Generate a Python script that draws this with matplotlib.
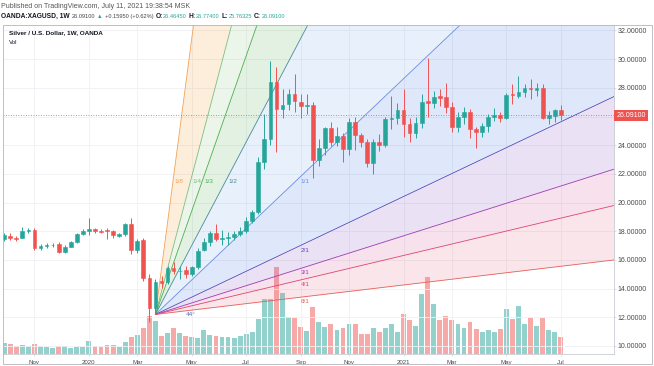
import numpy as np
import pandas as pd
import matplotlib
matplotlib.use("Agg")
import matplotlib.pyplot as plt
from matplotlib.patches import Rectangle
from matplotlib.transforms import blended_transform_factory

plt.rcParams['font.family'] = ['Liberation Sans', 'DejaVu Sans']

# weekly OANDA:XAGUSD candles, first week starts 2019-09-30
first_week = '2019-09-30'
opens = [17.45, 17.65, 17.55, 17.55, 18.00, 18.12, 16.85, 16.97, 17.02, 17.10,
         16.55, 16.93, 17.22, 17.80, 18.05, 18.15, 18.05, 18.10, 18.05, 17.70,
         17.78, 18.53, 16.70, 17.36, 14.75, 12.64, 14.50, 14.45, 15.45, 15.20,
         15.30, 15.02, 15.49, 16.66, 17.24, 17.90, 17.48, 17.50, 17.62, 17.82,
         18.00, 18.70, 19.34, 22.84, 24.44, 28.40, 26.50, 26.87, 27.55, 27.02,
         26.75, 26.80, 23.00, 23.80, 25.18, 24.25, 24.65, 23.72, 25.65, 24.72,
         24.25, 22.73, 24.25, 24.02, 25.84, 25.90, 26.47, 25.49, 24.86, 25.55,
         27.05, 26.95, 27.40, 27.35, 26.65, 25.30, 26.00, 26.30, 25.10, 24.95,
         25.35, 25.95, 26.10, 25.93, 27.60, 27.45, 27.68, 28.00, 27.87, 27.98,
         25.88, 26.05, 26.4645]
highs = [17.85, 17.85, 17.65, 18.32, 18.22, 18.20, 17.10, 17.15, 17.15, 17.25,
         17.05, 17.30, 17.85, 18.15, 18.90, 18.25, 18.15, 18.20, 18.10, 17.88,
         18.58, 18.95, 17.45, 17.50, 15.00, 14.65, 14.85, 15.55, 15.85, 15.55,
         15.55, 15.60, 16.80, 17.50, 18.00, 18.48, 18.10, 17.95, 18.00, 18.30,
         19.00, 19.50, 23.20, 26.20, 29.90, 29.45, 27.90, 27.95, 28.95, 27.60,
         27.55, 27.00, 24.40, 25.30, 25.65, 25.30, 24.85, 25.90, 26.00, 24.85,
         24.40, 24.40, 24.80, 26.00, 27.40, 26.95, 27.95, 25.90, 26.00, 27.60,
         30.10, 27.80, 27.95, 28.35, 27.00, 26.30, 26.65, 26.55, 25.30, 25.55,
         26.20, 26.60, 26.30, 27.65, 28.25, 28.80, 28.30, 28.60, 28.35, 28.30,
         26.40, 26.55, 26.774]
lows = [17.30, 17.40, 17.35, 17.50, 17.90, 16.70, 16.72, 16.85, 16.90, 16.45,
        16.45, 16.88, 17.18, 17.75, 17.75, 17.85, 17.85, 17.45, 17.50, 17.60,
        17.70, 16.43, 16.45, 14.55, 11.64, 12.20, 14.05, 14.35, 15.05, 14.65,
        14.75, 14.90, 15.40, 16.60, 17.00, 17.30, 17.05, 17.05, 17.40, 17.70,
        17.90, 18.60, 19.20, 22.37, 24.00, 23.55, 25.90, 26.45, 26.30, 25.90,
        26.20, 21.70, 22.55, 23.30, 23.95, 23.95, 22.85, 23.30, 23.65, 23.90,
        22.50, 22.00, 23.60, 23.90, 25.10, 25.50, 24.55, 24.25, 24.50, 25.20,
        26.00, 26.60, 26.70, 26.25, 24.95, 24.90, 25.50, 24.50, 23.80, 24.60,
        24.90, 25.70, 25.60, 25.80, 26.85, 27.30, 27.35, 27.20, 27.45, 25.80,
        25.50, 25.65, 25.76325]
closes = [17.75, 17.55, 17.48, 18.00, 18.12, 16.85, 16.97, 17.02, 17.05, 16.55,
          16.93, 17.22, 17.78, 18.05, 18.15, 18.03, 17.98, 18.00, 17.72, 17.80,
          18.52, 16.66, 17.35, 14.75, 12.62, 14.48, 14.42, 15.45, 15.22, 15.25,
          15.02, 15.48, 16.65, 17.24, 17.90, 17.48, 17.50, 17.60, 17.82, 18.00,
          18.70, 19.35, 22.80, 24.40, 28.40, 26.50, 26.80, 27.55, 27.05, 26.75,
          26.77, 23.00, 23.80, 25.18, 24.25, 24.65, 23.72, 25.65, 24.72, 24.25,
          22.73, 24.25, 24.02, 25.84, 25.90, 26.45, 25.50, 24.86, 25.55, 27.00,
          26.95, 27.35, 27.30, 26.65, 25.30, 26.00, 26.30, 25.10, 24.95, 25.35,
          25.95, 26.10, 25.93, 27.50, 27.50, 27.68, 28.00, 27.90, 27.98, 25.88,
          26.12, 26.46, 26.091]
volume_k = [72, 65, 52, 59, 52, 65, 52, 46, 39, 52, 52, 39, 46, 46, 85, 52, 46, 59, 59, 46,
            78, 111, 124, 169, 247, 215, 117, 137, 169, 137, 117, 111, 104, 156, 124, 117, 111, 111, 104, 117,
            130, 143, 228, 358, 358, 566, 397, 241, 234, 176, 150, 306, 208, 176, 195, 156, 169, 195, 195, 130,
            130, 169, 143, 169, 195, 143, 260, 221, 182, 390, 501, 325, 221, 247, 221, 195, 169, 208, 163, 143,
            156, 143, 163, 293, 228, 312, 195, 234, 182, 234, 156, 143, 111]

price_ticks = [10, 12, 14, 16, 18, 20, 22, 24, 26, 28, 30, 32]
last_price = 26.091

# Gann fan
fan_levels = ['1/8', '1/4', '1/3', '1/2', '1/1', '2/1', '3/1', '4/1', '8/1']
fan_start = (25, 12.2)
fan_end = (48.75, 21.72)
fan_angle = '44°'

header1 = 'Published on TradingView.com, July 11, 2021 19:38:54 MSK'
header2 = [('OANDA:XAGUSD, 1W', 'bold', '#131722'), ('26.09100', 'normal', '#444444'),
           ('▲', 'normal', '#26a69a'), ('+0.15950 (+0.62%)', 'normal', '#444444'),
           ('O:', 'bold', '#131722'), ('26.46450', 'normal', '#26a69a'),
           ('H:', 'bold', '#131722'), ('26.77400', 'normal', '#26a69a'),
           ('L:', 'bold', '#131722'), ('25.76325', 'normal', '#26a69a'),
           ('C:', 'bold', '#131722'), ('26.09100', 'normal', '#26a69a')]

up_col = '#26a69a'
down_col = '#ef5350'
line_cols = ['#f2a35a', '#7cbf7e', '#4caf50', '#4a8a9a', '#6a8ee0', '#5146b8', '#a03cb0', '#e0456f', '#e8605a']
fill_cols = ['#f79b33', '#93c783', '#5baf53', '#73abeb', '#4373e3', '#8353c3', '#cf4f93', '#e76f83']

o = np.array(opens)
h = np.array(highs)
l = np.array(lows)
c = np.array(closes)
x = np.arange(len(c))
weeks = pd.date_range(first_week, periods=len(c), freq='W-MON')
cols = np.where(c >= o, up_col, down_col)

W, H = 654, 366
fig = plt.figure(figsize=(W / 100, H / 100), dpi=100)
fig.patch.set_facecolor('white')
ax = fig.add_axes([3 / W, 12 / H, 611 / W, 329 / H])
ax2 = ax.twinx()
ax.set_zorder(ax2.get_zorder() + 1)
ax.patch.set_visible(False)

xl = -0.2
xr = xl + 611 / 6.05
ax.set_xlim(xl, xr)
ax.set_ylim(9.44, 32.38)

# volume
vcols = np.where(c >= o, '#93d2cc', '#f7a9a8')
ax2.bar(x, volume_k, width=0.8, color=vcols, lw=0)
ax2.set_ylim(0, max(volume_k) / 0.265)
ax2.set_yticks([])
for s in ax2.spines.values():
    s.set_visible(False)

# grid
month_pos, month_lab = [], []
for i in range(1, len(weeks)):
    if weeks[i].month != weeks[i - 1].month and weeks[i].month % 2 == 1:
        month_pos.append(i)
        month_lab.append(str(weeks[i].year) if weeks[i].month == 1 else weeks[i].strftime('%b'))
for p in month_pos:
    ax.axvline(p, color='#eef0f4', lw=0.6, zorder=0)
for p in price_ticks:
    ax.axhline(p, color='#eef0f4', lw=0.6, zorder=0)

# gann fan
i0, p0 = fan_start
i2, p2 = fan_end
s1 = (p2 - p0) / (i2 - i0)
xs = np.linspace(i0, xr + 1, 300)
fan_y = []
for lev in fan_levels:
    n, d = map(int, lev.split('/'))
    fan_y.append(p0 + s1 * d / n * (xs - i0))
for k in range(len(fan_levels) - 1):
    ax.fill_between(xs, fan_y[k], fan_y[k + 1], color=fill_cols[k], alpha=0.17, lw=0, zorder=1)
for k, lev in enumerate(fan_levels):
    ax.plot(xs, fan_y[k], color=line_cols[k], lw=0.6, zorder=2)
    n, d = map(int, lev.split('/'))
    if n < d:
        lx, ly = i0 + (i2 - i0) * n / d, p2
    else:
        lx, ly = i2, p0 + (p2 - p0) * d / n
    ax.annotate(lev, (lx, ly), xytext=(1, -1), textcoords='offset points',
                ha='left', va='top', fontsize=4.6, color=line_cols[k], zorder=5)
ax.annotate(fan_angle, (i0, p0), xytext=(22, 0), textcoords='offset points',
            ha='left', va='center', fontsize=4.6, color='#5c6bc0', zorder=5)

# last price line
ax.axhline(last_price, color=down_col, lw=0.6, ls=(0, (1, 2)), zorder=2.5)

# candles
ax.vlines(x, l, h, colors=cols, lw=0.7, zorder=3)
ax.bar(x, np.abs(c - o), bottom=np.minimum(o, c), width=0.62, color=cols,
       edgecolor=cols, lw=0.4, zorder=4)

# axes styling (the 26 label is covered by the last-price tag)
ax.yaxis.tick_right()
ax.set_yticks(price_ticks)
ax.set_yticklabels(['' if abs(p - last_price) < 0.5 else '%.5f' % p for p in price_ticks])
ax.tick_params(axis='y', labelsize=5, labelcolor='#4a4a4a', color='#c9ccd3', length=1.5, pad=1.2, width=0.5)
ax.set_xticks(month_pos)
ax.set_xticklabels(month_lab)
ax.tick_params(axis='x', labelsize=4.4, labelcolor='#4a4a4a', color='#c9ccd3', length=1.5, pad=2.5, width=0.5)
for side in ['left', 'top']:
    ax.spines[side].set_visible(False)
for side in ['right', 'bottom']:
    ax.spines[side].set_color('#c9ccd3')
    ax.spines[side].set_linewidth(0.6)

bt = blended_transform_factory(ax.transAxes, ax.transData)
ax.text(1.004, last_price, '%.5f' % last_price, transform=bt, ha='left', va='center',
        fontsize=5, color='white', zorder=6,
        bbox=dict(boxstyle='square,pad=0.3', fc=down_col, ec='none'))

# titles
ax.text(6 / 611, 1 - 8 / 329, 'Silver / U.S. Dollar, 1W, OANDA', transform=ax.transAxes,
        fontsize=4.6, fontweight='bold', color='#131722', va='center', ha='left', zorder=6)
ax.text(6 / 611, 1 - 17 / 329, 'Vol', transform=ax.transAxes,
        fontsize=4.4, color='#131722', va='center', ha='left', zorder=6)

fig.text(1 / W, 1 - 6 / H, header1, fontsize=5.0, color='#555555', va='center', ha='left')
renderer = fig.canvas.get_renderer()
xpos = 1
for txt, wt, col in header2:
    fs = 4.8 if wt == 'bold' else 4.1
    t = fig.text(xpos / W, 1 - 16.5 / H, txt, fontsize=fs, fontweight=wt, color=col, va='center', ha='left')
    bb = t.get_window_extent(renderer)
    xpos = bb.x1 + (0.3 if txt.endswith(':') else 2.0)

fig.patches.append(Rectangle((3 / W, 2 / H), 649 / W, 339 / H, transform=fig.transFigure,
                             fill=False, ec='#b2b5be', lw=0.6))

fig.savefig('out.png', dpi=100)
